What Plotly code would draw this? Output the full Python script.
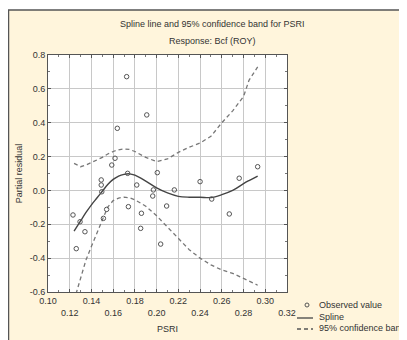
import plotly.graph_objects as go

# ---------------- data ----------------
obs_x = [0.123, 0.1295, 0.134, 0.126, 0.149, 0.149, 0.1495, 0.151, 0.154, 0.1587,
         0.1617, 0.1638, 0.1724, 0.1733, 0.174, 0.1817, 0.1909, 0.186, 0.1853, 0.197,
         0.1964, 0.2006, 0.2037, 0.2092, 0.2163, 0.240, 0.2507, 0.2669, 0.276, 0.293]
obs_y = [-0.145, -0.185, -0.244, -0.344, 0.062, 0.032, -0.008, -0.165, -0.112, 0.15,
         0.19, 0.367, 0.672, 0.101, -0.096, 0.032, 0.446, -0.135, -0.224, 0.003,
         -0.033, 0.105, -0.317, -0.092, 0.003, 0.052, -0.051, -0.139, 0.072, 0.14]

fit_x = [0.124, 0.130, 0.135, 0.140, 0.145, 0.150, 0.155, 0.160, 0.165, 0.170, 0.175,
         0.180, 0.190, 0.200, 0.210, 0.220, 0.230, 0.240, 0.250, 0.260, 0.270, 0.280,
         0.285, 0.293]
spline_y = [-0.24, -0.18, -0.13, -0.085, -0.045, -0.005, 0.035, 0.065, 0.085, 0.095, 0.098,
            0.09, 0.055, 0.015, -0.015, -0.035, -0.04, -0.04, -0.042, -0.025, 0.0, 0.04,
            0.058, 0.085]
upper_y = [0.16, 0.14, 0.15, 0.165, 0.18, 0.195, 0.215, 0.23, 0.24, 0.245, 0.242,
           0.23, 0.195, 0.17, 0.186, 0.225, 0.255, 0.28, 0.32, 0.40, 0.47, 0.555,
           0.65, 0.73]
lower_y = [-0.65, -0.51, -0.41, -0.33, -0.255, -0.17, -0.098, -0.06, -0.045, -0.04, -0.043,
           -0.055, -0.093, -0.15, -0.215, -0.28, -0.35, -0.40, -0.44, -0.47, -0.49, -0.52,
           -0.535, -0.56]

x_ticks = [0.10, 0.12, 0.14, 0.16, 0.18, 0.20, 0.22, 0.24, 0.26, 0.28, 0.30, 0.32]
y_ticks = [-0.6, -0.4, -0.2, 0.0, 0.2, 0.4, 0.6, 0.8]

title1 = "Spline line and 95% confidence band for PSRI"
title2 = "Response: Bcf (ROY)"
legend_labels = ["Observed value", "Spline", "95% confidence band"]

# ---------------- layout geometry ----------------
# the page body has an 8px margin, so the figure starts at page (8, 8)
OFF = 8
W, H = 407 - OFF, 340 - OFF
ML, MR, MT, MB = 40, 120, 47, 48
PW, PH = W - ML - MR, H - MT - MB


def px(x):  # page pixel -> paper x
    return (x - OFF - ML) / PW


def py(y):  # page pixel -> paper y
    return (H - MB - (y - OFF)) / PH


FONT = "Liberation Sans, Arial, sans-serif"
TXT = "#333333"
CREAM = "#FFF5DC"
FS = 9

x_text = [("%.2f" % v) if i % 2 == 0 else ("<br>%.2f" % v) for i, v in enumerate(x_ticks)]
y_text = ["%.1f" % v for v in y_ticks]

fig = go.Figure()
fig.add_trace(go.Scatter(x=fit_x, y=upper_y, mode="lines",
                         line=dict(color="#777777", width=1.3, dash="4px,3px"),
                         showlegend=False))
fig.add_trace(go.Scatter(x=fit_x, y=lower_y, mode="lines",
                         line=dict(color="#777777", width=1.3, dash="4px,3px"),
                         showlegend=False))
fig.add_trace(go.Scatter(x=fit_x, y=spline_y, mode="lines", line_shape="spline",
                         line=dict(color="#444444", width=1.4), showlegend=False))
fig.add_trace(go.Scatter(x=obs_x, y=obs_y, mode="markers",
                         marker=dict(symbol="circle-open", size=4.5,
                                     color="#555555", line=dict(width=1)),
                         showlegend=False))

shapes = [
    # white strip above the panel
    dict(type="rect", xref="paper", yref="paper", layer="below",
         x0=px(0), x1=px(420), y0=py(10), y1=py(0),
         fillcolor="white", line=dict(width=0)),
    # cream panel with border on left/top
    dict(type="rect", xref="paper", yref="paper", layer="below",
         x0=px(8.5), x1=px(430), y0=py(360), y1=py(10),
         fillcolor=CREAM, line=dict(color="#555555", width=1.5)),
    # white plot area
    dict(type="rect", xref="paper", yref="paper", layer="below",
         x0=0, x1=1, y0=0, y1=1, fillcolor="white", line=dict(width=0)),
    # legend symbols
    dict(type="circle", xref="paper", yref="paper",
         x0=px(305), x1=px(309), y0=py(307), y1=py(303),
         line=dict(color="#555555", width=1)),
    dict(type="line", xref="paper", yref="paper",
         x0=px(297), x1=px(313), y0=py(318), y1=py(318),
         line=dict(color="#444444", width=1.3)),
    dict(type="line", xref="paper", yref="paper",
         x0=px(297), x1=px(313), y0=py(329), y1=py(329),
         line=dict(color="#555555", width=1.3, dash="4px,3px")),
]

annotations = [
    dict(text=title1, xref="paper", yref="paper", x=px(212), y=py(24),
         xanchor="center", yanchor="middle",
         showarrow=False, font=dict(size=FS, color=TXT, family=FONT)),
    dict(text=title2, xref="paper", yref="paper", x=px(212), y=py(41),
         xanchor="center", yanchor="middle",
         showarrow=False, font=dict(size=FS, color=TXT, family=FONT)),
]
for i, lab in enumerate(legend_labels):
    annotations.append(dict(text=lab, xref="paper", yref="paper", x=px(317),
                            y=py(305 + 11.5 * i), xanchor="left", yanchor="middle",
                            showarrow=False, font=dict(size=FS, color=TXT, family=FONT)))

fig.update_layout(
    width=W, height=H,
    margin=dict(l=ML, r=MR, t=MT, b=MB, autoexpand=False),
    paper_bgcolor=CREAM, plot_bgcolor="rgba(0,0,0,0)",
    font=dict(family=FONT, size=FS, color=TXT),
    shapes=shapes, annotations=annotations, showlegend=False,
    xaxis=dict(range=[0.10, 0.32], tickvals=x_ticks, ticktext=x_text, automargin=False,
               showgrid=True, gridcolor="#c8c8c8", gridwidth=1, zeroline=False,
               showline=True, linecolor="#555555", linewidth=1, mirror="allticks",
               ticks="inside", ticklen=3, tickcolor="#555555",
               minor=dict(dtick=0.01, ticks="inside", ticklen=2, tickcolor="#777777", showgrid=False),
               tickfont=dict(size=FS, color=TXT),
               title=dict(text="PSRI", font=dict(size=FS, color=TXT), standoff=9)),
    yaxis=dict(range=[-0.6, 0.8], tickvals=y_ticks, ticktext=y_text, automargin=False,
               showgrid=True, gridcolor="#c8c8c8", gridwidth=1, zeroline=False,
               showline=True, linecolor="#555555", linewidth=1, mirror="allticks",
               ticks="inside", ticklen=3, tickcolor="#555555",
               minor=dict(dtick=0.1, ticks="inside", ticklen=2, tickcolor="#777777", showgrid=False),
               tickfont=dict(size=FS, color=TXT),
               title=dict(text="Partial residual", font=dict(size=FS, color=TXT), standoff=5)),
)

fig.write_html("out.html")
